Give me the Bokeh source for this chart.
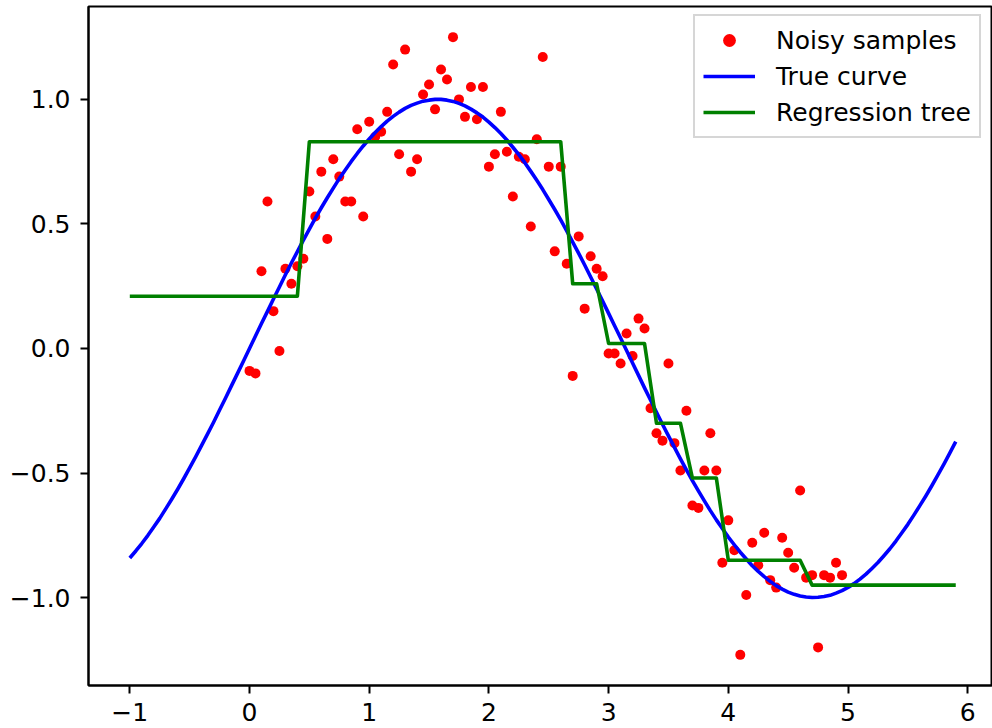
from bokeh.plotting import figure
from bokeh.models import FixedTicker, CustomJSTickFormatter, Legend, LegendItem, Range1d
from bokeh.embed import file_html
from bokeh.resources import INLINE

# Noisy samples
x_samples = [
    0.00, 0.05, 0.10, 0.15, 0.20, 0.25, 0.30, 0.35, 0.40, 0.45,
    0.50, 0.55, 0.60, 0.65, 0.70, 0.75, 0.80, 0.85, 0.90, 0.95,
    1.00, 1.05, 1.10, 1.15, 1.20, 1.25, 1.30, 1.35, 1.40, 1.45,
    1.50, 1.55, 1.60, 1.65, 1.70, 1.75, 1.80, 1.85, 1.90, 1.95,
    2.00, 2.05, 2.10, 2.15, 2.20, 2.25, 2.30, 2.35, 2.40, 2.45,
    2.50, 2.55, 2.60, 2.65, 2.70, 2.75, 2.80, 2.85, 2.90, 2.95,
    3.00, 3.05, 3.10, 3.15, 3.20, 3.25, 3.30, 3.35, 3.40, 3.45,
    3.50, 3.55, 3.60, 3.65, 3.70, 3.75, 3.80, 3.85, 3.90, 3.95,
    4.00, 4.05, 4.10, 4.15, 4.20, 4.25, 4.30, 4.35, 4.40, 4.45,
    4.50, 4.55, 4.60, 4.65, 4.70, 4.75, 4.80, 4.85, 4.90, 4.95,
]
y_samples = [
    -0.09, -0.10, 0.31, 0.59, 0.15, -0.01, 0.32, 0.26, 0.33, 0.36,
    0.63, 0.53, 0.71, 0.44, 0.76, 0.69, 0.59, 0.59, 0.88, 0.53,
    0.91, 0.85, 0.87, 0.95, 1.14, 0.78, 1.20, 0.71, 0.76, 1.02,
    1.06, 0.96, 1.12, 1.08, 1.25, 1.00, 0.93, 1.05, 0.92, 1.05,
    0.73, 0.78, 0.95, 0.79, 0.61, 0.77, 0.76, 0.49, 0.84, 1.17,
    0.73, 0.39, 0.73, 0.34, -0.11, 0.45, 0.16, 0.37, 0.32, 0.29,
    -0.02, -0.02, -0.06, 0.06, -0.03, 0.12, 0.08, -0.24, -0.34, -0.37,
    -0.06, -0.38, -0.49, -0.25, -0.63, -0.64, -0.49, -0.34, -0.49, -0.86,
    -0.69, -0.81, -1.23, -0.99, -0.78, -0.87, -0.74, -0.93, -0.96, -0.76,
    -0.82, -0.88, -0.57, -0.92, -0.91, -1.20, -0.91, -0.92, -0.86, -0.91,
]

# True curve (fine grid)
x_true = [
    -1.00, -0.95, -0.90, -0.85, -0.80, -0.75, -0.70, -0.65, -0.60, -0.55,
    -0.50, -0.45, -0.40, -0.35, -0.30, -0.25, -0.20, -0.15, -0.10, -0.05,
    0.00, 0.05, 0.10, 0.15, 0.20, 0.25, 0.30, 0.35, 0.40, 0.45,
    0.50, 0.55, 0.60, 0.65, 0.70, 0.75, 0.80, 0.85, 0.90, 0.95,
    1.00, 1.05, 1.10, 1.15, 1.20, 1.25, 1.30, 1.35, 1.40, 1.45,
    1.50, 1.55, 1.60, 1.65, 1.70, 1.75, 1.80, 1.85, 1.90, 1.95,
    2.00, 2.05, 2.10, 2.15, 2.20, 2.25, 2.30, 2.35, 2.40, 2.45,
    2.50, 2.55, 2.60, 2.65, 2.70, 2.75, 2.80, 2.85, 2.90, 2.95,
    3.00, 3.05, 3.10, 3.15, 3.20, 3.25, 3.30, 3.35, 3.40, 3.45,
    3.50, 3.55, 3.60, 3.65, 3.70, 3.75, 3.80, 3.85, 3.90, 3.95,
    4.00, 4.05, 4.10, 4.15, 4.20, 4.25, 4.30, 4.35, 4.40, 4.45,
    4.50, 4.55, 4.60, 4.65, 4.70, 4.75, 4.80, 4.85, 4.90, 4.95,
    5.00, 5.05, 5.10, 5.15, 5.20, 5.25, 5.30, 5.35, 5.40, 5.45,
    5.50, 5.55, 5.60, 5.65, 5.70, 5.75, 5.80, 5.85, 5.90,
]
y_true = [
    -0.841, -0.813, -0.783, -0.751, -0.717, -0.682, -0.644, -0.605, -0.565, -0.523,
    -0.479, -0.435, -0.389, -0.343, -0.296, -0.247, -0.199, -0.149, -0.100, -0.050,
    0.000, 0.050, 0.100, 0.149, 0.199, 0.247, 0.296, 0.343, 0.389, 0.435,
    0.479, 0.523, 0.565, 0.605, 0.644, 0.682, 0.717, 0.751, 0.783, 0.813,
    0.841, 0.867, 0.891, 0.913, 0.932, 0.949, 0.964, 0.976, 0.985, 0.993,
    0.997, 1.000, 1.000, 0.997, 0.992, 0.984, 0.974, 0.961, 0.946, 0.929,
    0.909, 0.887, 0.863, 0.837, 0.808, 0.778, 0.746, 0.711, 0.675, 0.638,
    0.598, 0.558, 0.516, 0.472, 0.427, 0.382, 0.335, 0.287, 0.239, 0.190,
    0.141, 0.091, 0.042, -0.008, -0.058, -0.108, -0.158, -0.207, -0.256, -0.304,
    -0.351, -0.397, -0.443, -0.487, -0.530, -0.572, -0.612, -0.651, -0.688, -0.723,
    -0.757, -0.788, -0.818, -0.845, -0.872, -0.895, -0.916, -0.935, -0.952, -0.966,
    -0.978, -0.987, -0.994, -0.998, -1.000, -0.999, -0.996, -0.991, -0.982, -0.972,
    -0.959, -0.944, -0.926, -0.906, -0.883, -0.859, -0.832, -0.804, -0.773, -0.740,
    -0.706, -0.669, -0.631, -0.592, -0.551, -0.508, -0.465, -0.420, -0.374,
]

# Regression tree prediction (coarse grid)
x_grid = [
    -1.0, -0.9, -0.8, -0.7, -0.6, -0.5, -0.4, -0.3, -0.2, -0.1,
    0.0, 0.1, 0.2, 0.3, 0.4, 0.5, 0.6, 0.7, 0.8, 0.9,
    1.0, 1.1, 1.2, 1.3, 1.4, 1.5, 1.6, 1.7, 1.8, 1.9,
    2.0, 2.1, 2.2, 2.3, 2.4, 2.5, 2.6, 2.7, 2.8, 2.9,
    3.0, 3.1, 3.2, 3.3, 3.4, 3.5, 3.6, 3.7, 3.8, 3.9,
    4.0, 4.1, 4.2, 4.3, 4.4, 4.5, 4.6, 4.7, 4.8, 4.9,
    5.0, 5.1, 5.2, 5.3, 5.4, 5.5, 5.6, 5.7, 5.8, 5.9,
]
y_tree = [
    0.21, 0.21, 0.21, 0.21, 0.21, 0.21, 0.21, 0.21, 0.21, 0.21,
    0.21, 0.21, 0.21, 0.21, 0.21, 0.83, 0.83, 0.83, 0.83, 0.83,
    0.83, 0.83, 0.83, 0.83, 0.83, 0.83, 0.83, 0.83, 0.83, 0.83,
    0.83, 0.83, 0.83, 0.83, 0.83, 0.83, 0.83, 0.26, 0.26, 0.26,
    0.02, 0.02, 0.02, 0.02, -0.30, -0.30, -0.30, -0.52, -0.52, -0.52,
    -0.85, -0.85, -0.85, -0.85, -0.85, -0.85, -0.85, -0.95, -0.95, -0.95,
    -0.95, -0.95, -0.95, -0.95, -0.95, -0.95, -0.95, -0.95, -0.95, -0.95,
]

x_ticks = [-1, 0, 1, 2, 3, 4, 5, 6]
y_ticks = [-1.0, -0.5, 0.0, 0.5, 1.0]
labels = ["Noisy samples", "True curve", "Regression tree"]

FONT = "DejaVu Sans"
FS = "25px"

p = figure(width=992, height=728, output_backend="svg", toolbar_location=None,
           x_range=Range1d(-1.345, 6.207), y_range=Range1d(-1.353, 1.373),
           min_border_left=88, min_border_right=0, min_border_top=6, min_border_bottom=43)
p.background_fill_color = "white"
p.border_fill_color = "white"
p.outline_line_color = "black"
p.outline_line_width = 2
p.xgrid.visible = False
p.ygrid.visible = False

r_pts = p.scatter(x_samples, y_samples, size=10, color="red", line_color=None)
r_true = p.line(x_true, y_true, line_color="blue", line_width=3.6, line_join="round")
r_tree = p.line(x_grid, y_tree, line_color="green", line_width=3.6, line_join="round")

for ax, ticks, fmt in ((p.xaxis[0], x_ticks, 0), (p.yaxis[0], y_ticks, 1)):
    ax.ticker = FixedTicker(ticks=ticks, minor_ticks=[])
    ax.formatter = CustomJSTickFormatter(
        code="return tick.toFixed(%d).replace('-', '\u2212');" % fmt)
    ax.axis_line_color = "black"
    ax.axis_line_width = 2
    ax.major_tick_line_color = "black"
    ax.major_tick_line_width = 2
    ax.major_tick_out = 8
    ax.major_tick_in = 0
    ax.minor_tick_line_color = None
    ax.major_label_text_font = FONT
    ax.major_label_text_font_size = FS
    ax.major_label_text_color = "black"
p.xaxis[0].major_label_standoff = 9
p.yaxis[0].major_label_standoff = 10

legend = Legend(items=[LegendItem(label=labels[0], renderers=[r_pts]),
                       LegendItem(label=labels[1], renderers=[r_true]),
                       LegendItem(label=labels[2], renderers=[r_tree])],
                location=(605, 547))
legend.label_text_font = FONT
legend.label_text_font_size = FS
legend.label_text_color = "black"
legend.padding = 8
legend.spacing = 4
legend.glyph_width = 52
legend.glyph_height = 32
legend.label_height = 32
legend.label_standoff = 21
legend.border_line_color = "#cccccc"
legend.border_line_width = 2
legend.border_line_alpha = 0.8
legend.background_fill_color = "white"
legend.background_fill_alpha = 0.8
p.add_layout(legend, "center")

open("out.html", "w").write(file_html(p, INLINE))
